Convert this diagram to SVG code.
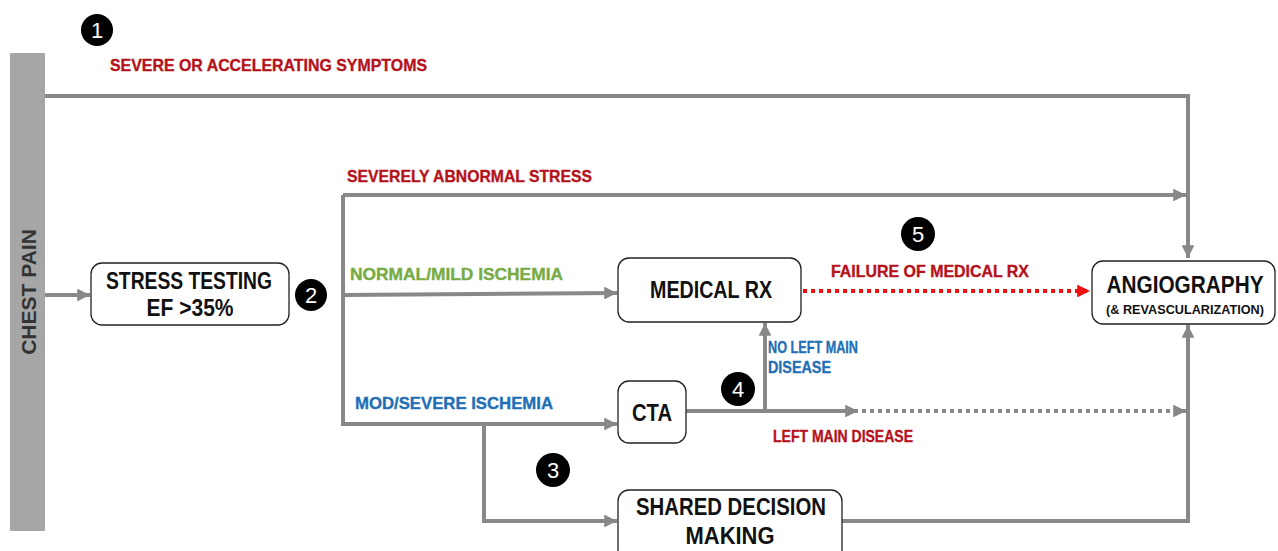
<svg xmlns="http://www.w3.org/2000/svg" width="1278" height="551" viewBox="0 0 1278 551">
<style>
  .ln{fill:none;stroke:#888;stroke-width:4}
  .dot{fill:none;stroke:#888;stroke-width:4;stroke-dasharray:4 4}
  .rdot{fill:none;stroke:#f01010;stroke-width:4;stroke-dasharray:4 4}
  .box{fill:#fff;stroke:#222;stroke-width:1.3}
  .bt{font-family:"Liberation Sans",Arial,sans-serif;font-weight:bold;fill:#111;text-anchor:middle}
  .lab{font-family:"Liberation Sans",Arial,sans-serif;font-weight:bold;font-size:16.5px;stroke-width:0.35}
  .red{fill:#b5121b;stroke:#b5121b}
  .grn{fill:#77ab43;stroke:#77ab43}
  .blu{fill:#1f6fb6;stroke:#1f6fb6}
  .num circle{fill:#000}
  .num text{font-family:"Liberation Sans",Arial,sans-serif;font-size:22px;fill:#fff;text-anchor:middle}
</style>
<defs>
  <marker id="ag" viewBox="0 0 10 10" refX="10" refY="5" markerWidth="3.2" markerHeight="3.2" orient="auto" markerUnits="strokeWidth">
    <path d="M0,0 L10,5 L0,10 z" fill="#888"/>
  </marker>
  <marker id="ar" viewBox="0 0 10 10" refX="10" refY="5" markerWidth="3.2" markerHeight="3.2" orient="auto" markerUnits="strokeWidth">
    <path d="M0,0 L10,5 L0,10 z" fill="#f01010"/>
  </marker>
</defs>
<rect width="1278" height="551" fill="#fff"/>

<g id="connectors">
  <path class="ln" d="M45,96 H1188 V258" marker-end="url(#ag)"/>
  <path class="ln" d="M45,295 H90" marker-end="url(#ag)"/>
  <path class="ln" d="M343,195 V424"/>
  <path class="ln" d="M343,195 H1186" marker-end="url(#ag)"/>
  <path class="ln" d="M343,295 L617,293" marker-end="url(#ag)"/>
  <path class="ln" d="M341,424 H617" marker-end="url(#ag)"/>
  <path class="ln" d="M484,424 V521 H617" marker-end="url(#ag)"/>
  <path class="ln" d="M686,411 H858" marker-end="url(#ag)"/>
  <path class="dot" d="M862,411 H1186" marker-end="url(#ag)"/>
  <path class="ln" d="M765,411 V323" marker-end="url(#ag)"/>
  <path class="rdot" d="M803,291 H1090" marker-end="url(#ar)"/>
  <path class="ln" d="M842,521 H1188 V325" marker-end="url(#ag)"/>
</g>

<g id="chest-pain">
  <rect x="10" y="53" width="35" height="478" fill="#a6a6a6"/>
  <text x="0" y="0" transform="translate(36,292) rotate(-90)" text-anchor="middle" font-family="Liberation Sans,Arial,sans-serif" font-weight="bold" font-size="21" fill="#333">CHEST PAIN</text>
</g>

<g id="stress-testing">
  <rect class="box" x="91" y="263" width="198" height="62" rx="11"/>
  <text class="bt" x="189" y="289" font-size="23" textLength="166" lengthAdjust="spacingAndGlyphs">STRESS TESTING</text>
  <text class="bt" x="190" y="316" font-size="23" textLength="87" lengthAdjust="spacingAndGlyphs">EF &gt;35%</text>
</g>

<g id="medical-rx">
  <rect class="box" x="618" y="258" width="183" height="64" rx="11"/>
  <text class="bt" x="711" y="298" font-size="23" textLength="122" lengthAdjust="spacingAndGlyphs">MEDICAL RX</text>
</g>

<g id="angiography">
  <rect class="box" x="1092" y="261" width="183" height="63" rx="11"/>
  <text class="bt" x="1185" y="293" font-size="23" textLength="157" lengthAdjust="spacingAndGlyphs">ANGIOGRAPHY</text>
  <text class="bt" x="1185" y="314" font-size="13" textLength="158" lengthAdjust="spacingAndGlyphs">(&amp; REVASCULARIZATION)</text>
</g>

<g id="cta">
  <rect class="box" x="618" y="381" width="68" height="62" rx="11"/>
  <text class="bt" x="652" y="421" font-size="23" textLength="40" lengthAdjust="spacingAndGlyphs">CTA</text>
</g>

<g id="shared-decision">
  <rect class="box" x="618" y="490" width="224" height="70" rx="11"/>
  <text class="bt" x="731" y="515" font-size="23" textLength="190" lengthAdjust="spacingAndGlyphs">SHARED DECISION</text>
  <text class="bt" x="730" y="544" font-size="23" textLength="89" lengthAdjust="spacingAndGlyphs">MAKING</text>
</g>

<g id="labels">
  <text class="lab red" x="110" y="71" textLength="317" lengthAdjust="spacingAndGlyphs">SEVERE OR ACCELERATING SYMPTOMS</text>
  <text class="lab red" x="347" y="182" textLength="245" lengthAdjust="spacingAndGlyphs">SEVERELY ABNORMAL STRESS</text>
  <text class="lab grn" x="350" y="280" textLength="213" lengthAdjust="spacingAndGlyphs">NORMAL/MILD ISCHEMIA</text>
  <text class="lab blu" x="355" y="409" textLength="198" lengthAdjust="spacingAndGlyphs">MOD/SEVERE ISCHEMIA</text>
  <text class="lab red" x="831" y="277" textLength="198" lengthAdjust="spacingAndGlyphs">FAILURE OF MEDICAL RX</text>
  <text class="lab blu" x="768" y="353" font-size="14" textLength="90" lengthAdjust="spacingAndGlyphs">NO LEFT MAIN</text>
  <text class="lab blu" x="768" y="373" font-size="14" textLength="63" lengthAdjust="spacingAndGlyphs">DISEASE</text>
  <text class="lab red" x="773" y="442" font-size="14" textLength="140" lengthAdjust="spacingAndGlyphs">LEFT MAIN DISEASE</text>
</g>

<g id="num1" class="num"><circle cx="97" cy="30" r="16"/><text x="97" y="38">1</text></g>
<g id="num2" class="num"><circle cx="311" cy="295" r="16"/><text x="311" y="303">2</text></g>
<g id="num3" class="num"><circle cx="553" cy="470" r="17"/><text x="553" y="478">3</text></g>
<g id="num4" class="num"><circle cx="738" cy="389" r="17"/><text x="738" y="397">4</text></g>
<g id="num5" class="num"><circle cx="918" cy="234" r="17"/><text x="918" y="242">5</text></g>
</svg>
